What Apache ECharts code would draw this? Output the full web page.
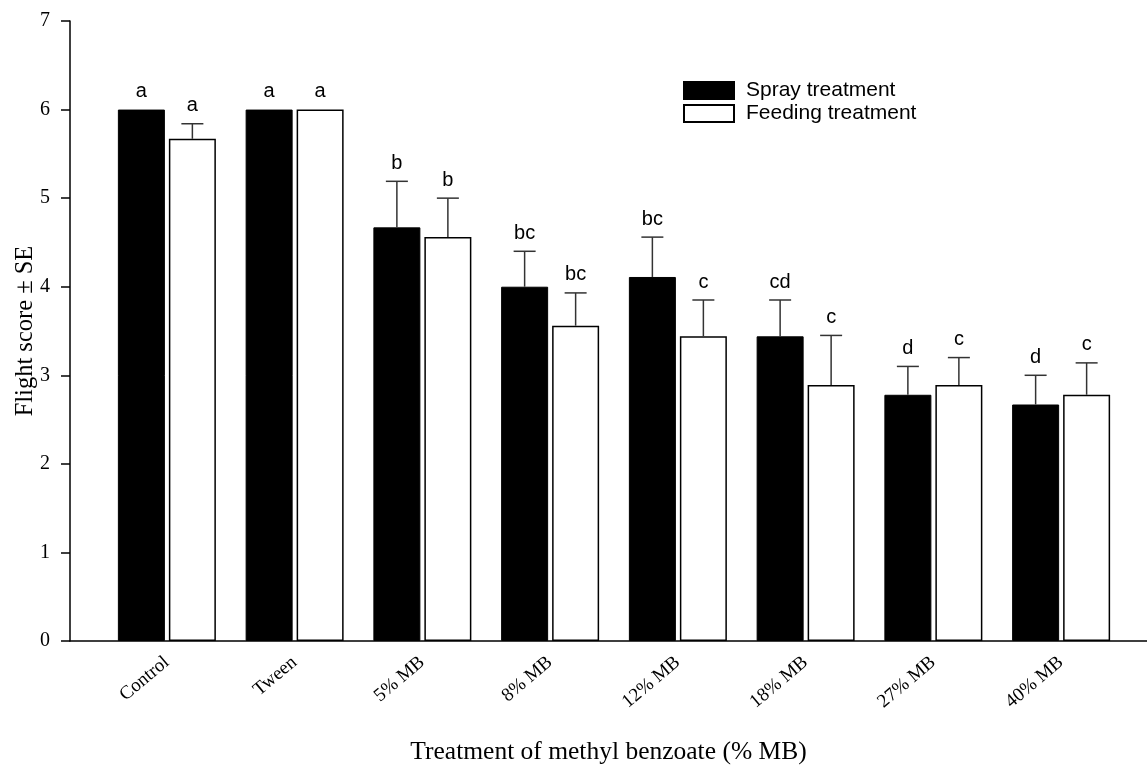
<!DOCTYPE html>
<html>
<head>
<meta charset="utf-8">
<script src="https://cdn.jsdelivr.net/npm/echarts@6/dist/echarts.min.js"></script>
<style>
  html, body { margin: 0; padding: 0; background: #fff; }
  #chart { width: 1147px; height: 765px; }
</style>
</head>
<body>
<div id="chart"></div>
<script>
// Flight score of treated insects, mean ± SE
const categories = ['Control', 'Tween', '5% MB', '8% MB', '12% MB', '18% MB', '27% MB', '40% MB'];
const sprayMean = [6.00, 6.00, 4.67, 4.00, 4.11, 3.44, 2.78, 2.67];
const spraySE = [0, 0, 0.52, 0.40, 0.45, 0.41, 0.32, 0.33];
const sprayLetters = ['a', 'a', 'b', 'bc', 'bc', 'cd', 'd', 'd'];
const feedMean = [5.67, 6.00, 4.56, 3.56, 3.44, 2.89, 2.89, 2.78];
const feedSE = [0.17, 0, 0.44, 0.37, 0.41, 0.56, 0.31, 0.36];
const feedLetters = ['a', 'a', 'b', 'bc', 'c', 'c', 'c', 'c'];
const yTicks = [0, 1, 2, 3, 4, 5, 6, 7];

const BAR_W = 47;
const BAR_GAP = 4;
const SERIF = '"Liberation Serif", "Times New Roman", serif';
const SANS = '"Liberation Sans", Arial, sans-serif';
const letters = [sprayLetters, feedLetters];

function errData(means, ses, side) {
  return means.map((m, i) => [i, m, ses[i], side]);
}

// error bar with cap plus the significance letter above it
function renderErr(params, api) {
  const idx = api.value(0);
  const mean = api.value(1);
  const se = api.value(2);
  const side = api.value(3);
  const base = api.coord([idx, mean]);
  const top = api.coord([idx, mean + se]);
  const shift = BAR_W / 2 + BAR_GAP / 2;
  const x = base[0] + (side === 0 ? -shift : shift);
  const children = [];
  if (se > 0) {
    children.push({
      type: 'line',
      shape: { x1: x, y1: base[1], x2: x, y2: top[1] },
      style: { stroke: '#333', lineWidth: 1.5 }
    });
    children.push({
      type: 'line',
      shape: { x1: x - 11, y1: top[1], x2: x + 11, y2: top[1] },
      style: { stroke: '#333', lineWidth: 1.5 }
    });
  }
  children.push({
    type: 'text',
    style: {
      x: x, y: top[1] - 8,
      text: letters[side][idx],
      fill: '#000',
      font: '20px ' + SANS,
      align: 'center',
      verticalAlign: 'bottom'
    }
  });
  return { type: 'group', children: children };
}

const chart = echarts.init(document.getElementById('chart'));
chart.setOption({
  backgroundColor: '#fff',
  animation: false,
  legend: {
    data: ['Spray treatment', 'Feeding treatment'],
    orient: 'vertical',
    icon: 'rect',
    left: 683,
    top: 80,
    padding: 0,
    itemWidth: 50,
    itemHeight: 17,
    itemGap: 2,
    textStyle: { fontFamily: SANS, fontSize: 21, lineHeight: 21, color: '#000', padding: [0, 0, 0, 7] }
  },
  grid: [
    { left: 103, right: 22, top: 21, bottom: 124, outerBoundsMode: 'none' },
    { left: 70, right: 0, top: 21, bottom: 124, outerBoundsMode: 'none' }
  ],
  xAxis: [
    {
      gridIndex: 0,
      type: 'category',
      data: categories,
      axisLine: { show: false },
      axisTick: { show: false },
      axisLabel: {
        rotate: 40,
        margin: 19,
        fontFamily: SERIF,
        fontSize: 19,
        color: '#000'
      }
    },
    {
      gridIndex: 1,
      type: 'value',
      min: 0,
      max: 1,
      axisLine: { show: true, lineStyle: { color: '#000', width: 1.5 } },
      axisTick: { show: false },
      axisLabel: { show: false },
      splitLine: { show: false },
      name: 'Treatment of methyl benzoate (% MB)',
      nameLocation: 'middle',
      nameGap: 98,
      nameMoveOverlap: false,
      nameTextStyle: { fontFamily: SERIF, fontSize: 25.5, color: '#000' }
    }
  ],
  yAxis: [
    {
      gridIndex: 0,
      type: 'value',
      min: 0,
      max: 7,
      show: false
    },
    {
      gridIndex: 1,
      type: 'value',
      min: yTicks[0],
      max: yTicks[yTicks.length - 1],
      interval: 1,
      axisLine: { show: true, lineStyle: { color: '#000', width: 1.5 } },
      axisTick: { show: true, inside: false, length: 9, lineStyle: { color: '#000', width: 1.5 } },
      axisLabel: { margin: 20, fontFamily: SERIF, fontSize: 20, color: '#000' },
      splitLine: { show: false },
      name: 'Flight score ± SE',
      nameLocation: 'middle',
      nameGap: 32,
      nameMoveOverlap: false,
      nameTextStyle: { fontFamily: SERIF, fontSize: 24.5, color: '#000' }
    }
  ],
  series: [
    {
      name: 'Spray treatment',
      type: 'bar',
      xAxisIndex: 0,
      yAxisIndex: 0,
      data: sprayMean,
      barWidth: BAR_W,
      barGap: (BAR_GAP / BAR_W * 100).toFixed(1) + '%',
      itemStyle: { color: '#000', borderColor: '#000', borderWidth: 1 }
    },
    {
      name: 'Feeding treatment',
      type: 'bar',
      xAxisIndex: 0,
      yAxisIndex: 0,
      data: feedMean,
      barWidth: BAR_W,
      barGap: (BAR_GAP / BAR_W * 100).toFixed(1) + '%',
      itemStyle: { color: '#fff', borderColor: '#000', borderWidth: 1.5 }
    },
    {
      type: 'custom',
      xAxisIndex: 0,
      yAxisIndex: 0,
      renderItem: renderErr,
      data: errData(sprayMean, spraySE, 0),
      z: 5
    },
    {
      type: 'custom',
      xAxisIndex: 0,
      yAxisIndex: 0,
      renderItem: renderErr,
      data: errData(feedMean, feedSE, 1),
      z: 5
    }
  ]
});
</script>
</body>
</html>
